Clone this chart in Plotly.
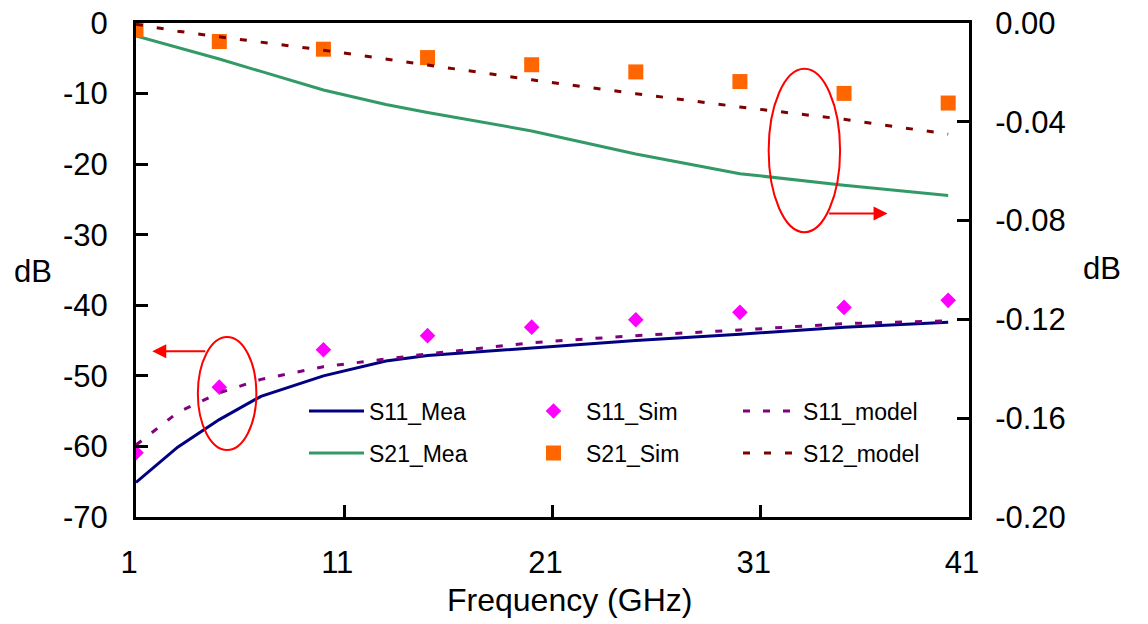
import plotly.graph_objects as go

# ---- data ----
freq_mea = [1, 2, 3, 5, 7, 10, 13, 15, 20, 25, 30, 35, 40]
s11_mea = [-65.1, -62.6, -60.1, -56.2, -52.9, -50.0, -47.9, -47.1, -46.0, -45.0, -44.1, -43.1, -42.4]
s21_mea = [-0.0052, -0.0075, -0.0098, -0.0146, -0.0196, -0.0271, -0.0330, -0.0362, -0.0437, -0.0530, -0.0610, -0.0657, -0.0698]

freq_model = [1, 3, 5, 7, 10, 15, 20, 25, 30, 35, 40]
s11_model = [-59.8, -55.2, -52.4, -50.5, -48.7, -46.9, -45.3, -44.3, -43.5, -42.6, -42.2]
s12_model = [-0.0005, -0.0033, -0.0056, -0.0078, -0.0110, -0.0170, -0.0230, -0.0286, -0.0340, -0.0390, -0.0450]

freq_sim = [1, 5, 10, 15, 20, 25, 30, 35, 40]
s11_sim = [-60.9, -51.6, -46.3, -44.3, -43.1, -42.05, -41.0, -40.3, -39.3]
s21_sim = [-0.0028, -0.0075, -0.0106, -0.0140, -0.0169, -0.0198, -0.0237, -0.0285, -0.0324]

x_ticks = [1, 11, 21, 31, 41]
x_ticktext = ["1", "11", "21", "31", "41"]
y_ticks = [0, -10, -20, -30, -40, -50, -60, -70]
y_ticktext = ["0", "-10", "-20", "-30", "-40", "-50", "-60", "-70"]
y2_ticks = [0.0, -0.04, -0.08, -0.12, -0.16, -0.20]
y2_ticktext = ["0.00", "-0.04", "-0.08", "-0.12", "-0.16", "-0.20"]

FONT = "Liberation Sans, Arial, sans-serif"

fig = go.Figure()

# row 1 legend
fig.add_trace(go.Scatter(x=freq_mea, y=s11_mea, mode="lines", name="S11_Mea",
                         line=dict(color="#000080", width=3), legend="legend"))
fig.add_trace(go.Scatter(x=freq_sim, y=s11_sim, mode="markers", name="S11_Sim",
                         marker=dict(symbol="diamond", color="#ff00ff", size=12), legend="legend"))
fig.add_trace(go.Scatter(x=freq_model, y=s11_model, mode="lines", name="S11_model",
                         line=dict(color="#800080", width=3, dash="7px,13px"), legend="legend"))
# row 2 legend
fig.add_trace(go.Scatter(x=freq_mea, y=s21_mea, mode="lines", name="S21_Mea", yaxis="y2",
                         line=dict(color="#339966", width=3), legend="legend2"))
fig.add_trace(go.Scatter(x=freq_sim, y=s21_sim, mode="markers", name="S21_Sim", yaxis="y2",
                         marker=dict(symbol="square", color="#ff6600", size=15), legend="legend2"))
fig.add_trace(go.Scatter(x=freq_model, y=s12_model, mode="lines", name="S12_model", yaxis="y2",
                         line=dict(color="#800000", width=3, dash="7px,14px"), legend="legend2"))

leg_common = dict(orientation="h", xanchor="left", yanchor="middle", bgcolor="rgba(0,0,0,0)",
                  font=dict(family=FONT, size=23, color="black"), itemwidth=55,
                  entrywidth=147, entrywidthmode="pixels", tracegroupgap=0)

fig.update_layout(
    width=1148, height=624,
    margin=dict(l=136, r=179, t=23, b=107),
    paper_bgcolor="white", plot_bgcolor="white",
    font=dict(family=FONT, color="black"),
    xaxis=dict(range=[1, 41], tickvals=x_ticks, ticktext=x_ticktext, showgrid=False, zeroline=False,
               showline=True, linecolor="black", linewidth=3, mirror=True, automargin=False,
               ticks="inside", ticklen=12, tickwidth=3, tickcolor="black", ticklabeloverflow="allow",
               tickfont=dict(size=31, family=FONT), ticklabelshift=-7, ticklabelstandoff=16),
    yaxis=dict(range=[-70, 0], tickvals=y_ticks, ticktext=y_ticktext, showgrid=False, zeroline=False,
               showline=True, linecolor="black", linewidth=3, automargin=False,
               ticks="inside", ticklen=12, tickwidth=3, tickcolor="black", ticklabeloverflow="allow",
               tickfont=dict(size=31, family=FONT), ticklabelstandoff=19),
    yaxis2=dict(range=[-0.2, 0], tickvals=y2_ticks, ticktext=y2_ticktext, overlaying="y", side="right",
                showgrid=False, zeroline=False, showline=True, linecolor="black", linewidth=3,
                automargin=False, ticklabeloverflow="allow",
                ticks="inside", ticklen=12, tickwidth=3, tickcolor="black",
                tickfont=dict(size=31, family=FONT), ticklabelstandoff=17),
    legend=dict(x=(304 - 136) / 833, y=(517 - 411) / 494, **leg_common),
    legend2=dict(x=(304 - 136) / 833, y=(517 - 453) / 494, **leg_common),
    showlegend=True,
)

# ellipses and arrows
fig.add_shape(type="circle", xref="x", yref="y", x0=3.97, x1=6.78, y0=-60.5, y1=-44.5,
              line=dict(color="red", width=2))
fig.add_shape(type="circle", xref="x", yref="y", x0=31.38, x1=34.81, y0=-29.64, y1=-6.49,
              line=dict(color="red", width=2))
fig.add_annotation(x=1.78, y=-46.5, ax=4.4, ay=-46.5, xref="x", yref="y", axref="x", ayref="y",
                   showarrow=True, arrowhead=2, arrowsize=1.4, arrowwidth=2, arrowcolor="red", text="")
fig.add_annotation(x=37.09, y=-27.0, ax=34.21, ay=-27.0, xref="x", yref="y", axref="x", ayref="y",
                   showarrow=True, arrowhead=2, arrowsize=1.4, arrowwidth=2, arrowcolor="red", text="")

# axis titles
fig.add_annotation(x=(569 - 136) / 833, y=(517 - 600) / 494, xref="paper", yref="paper",
                   text="Frequency (GHz)", showarrow=False, xanchor="center", yanchor="middle",
                   font=dict(size=32, family=FONT, color="black"))
fig.add_annotation(x=(32.5 - 136) / 833, y=(517 - 271) / 494, xref="paper", yref="paper",
                   text="dB", showarrow=False, xanchor="center", yanchor="middle",
                   font=dict(size=31, family=FONT, color="black"))
fig.add_annotation(x=(1102 - 136) / 833, y=(517 - 268) / 494, xref="paper", yref="paper",
                   text="dB", showarrow=False, xanchor="center", yanchor="middle",
                   font=dict(size=31, family=FONT, color="black"))

# remove the default page margin so the 1148x624 canvas fills the window exactly
fig.write_html("out.html", config={"displayModeBar": False},
               post_script="document.body.style.margin='0';")
